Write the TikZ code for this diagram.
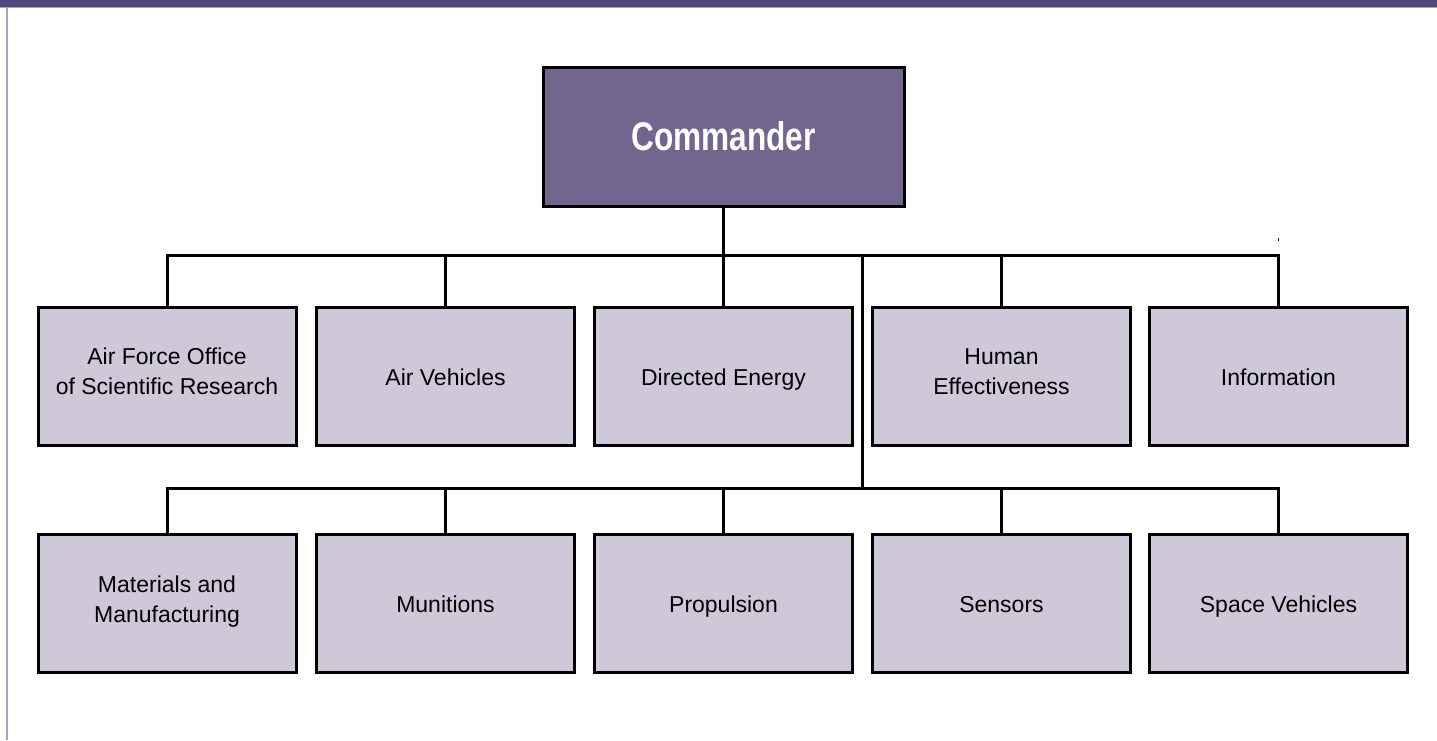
\documentclass[tikz,border=0pt]{standalone}
\usepackage{fontspec}
\setmainfont{Liberation Sans}
\newfontfamily\headfont[FakeStretch=0.79]{Liberation Sans}
\usepackage{tikz}
\usetikzlibrary{calc}

\definecolor{barpurple}{HTML}{51477A}
\definecolor{edgepurple}{HTML}{A9A4C6}
\definecolor{headpurple}{HTML}{72668E}
\definecolor{unitlilac}{HTML}{CEC8D9}

\newcommand{\tallstrut}{\rule{0pt}{27pt}}

\tikzset{
  head/.style={draw=black, line width=3pt, fill=headpurple, text=white,
    minimum width=361pt, minimum height=139pt, inner sep=0pt,
    font=\headfont\bfseries\fontsize{40}{44}\selectfont},
  unit/.style={draw=black, line width=3pt, fill=unitlilac, align=center,
    minimum width=258pt, minimum height=138pt, inner sep=0pt,
    font=\fontsize{23}{30}\selectfont,
    execute at begin node=\tallstrut, execute at end node=\strut},
  link/.style={line width=3pt, line cap=rect}
}

\begin{document}
\begin{tikzpicture}[x=1pt,y=-1pt]
%\draw[help lines,step=100] (0,0) grid (1437,740);
\useasboundingbox (0,0) rectangle (1437,740);

% frame
\fill[barpurple] (0,0) rectangle (1437,7);
\draw[edgepurple, line width=1pt] (0,7.5) -- (1437,7.5);
\draw[edgepurple, line width=2pt] (7,7) -- (7,740);

\node [head] (cmd) at (723.5,136.5) {Commander};

% first row
\node [unit] (afosr) at (167,376) {Air Force Office\\of Scientific Research};
\node [unit] (av) at (445.5,376) {Air Vehicles};
\node [unit] (de) at (723.5,376) {Directed Energy};
\node [unit] (he) at (1001.5,376) {Human\\Effectiveness};
\node [unit] (info) at (1278.5,376) {Information};

% second row
\node [unit] (mm) at (167,603.5) {Materials and\\Manufacturing};
\node [unit] (mun) at (445.5,603.5) {Munitions};
\node [unit] (prop) at (723.5,603.5) {Propulsion};
\node [unit] (sens) at (1001.5,603.5) {Sensors};
\node [unit] (sv) at (1278.5,603.5) {Space Vehicles};

\coordinate (bus1) at (723.5,255);
\coordinate (split) at (862,255);
\coordinate (bus2) at (862,488);

\draw [link] (cmd.south) -- (de.north);
\draw [link] (afosr.north) -- (afosr.north |- bus1) -- (info.north |- bus1) -- (info.north);
\draw [link] (av.north) -- (av.north |- bus1);
\draw [link] (he.north) -- (he.north |- bus1);
\draw [link] (split) -- (bus2);

\draw [link] (mm.north) -- (mm.north |- bus2) -- (sv.north |- bus2) -- (sv.north);
\draw [link] (mun.north) -- (mun.north |- bus2);
\draw [link] (prop.north) -- (prop.north |- bus2);
\draw [link] (sens.north) -- (sens.north |- bus2);

\draw [line width=1pt] (1278,238) -- (1278,241);
\end{tikzpicture}
\end{document}
